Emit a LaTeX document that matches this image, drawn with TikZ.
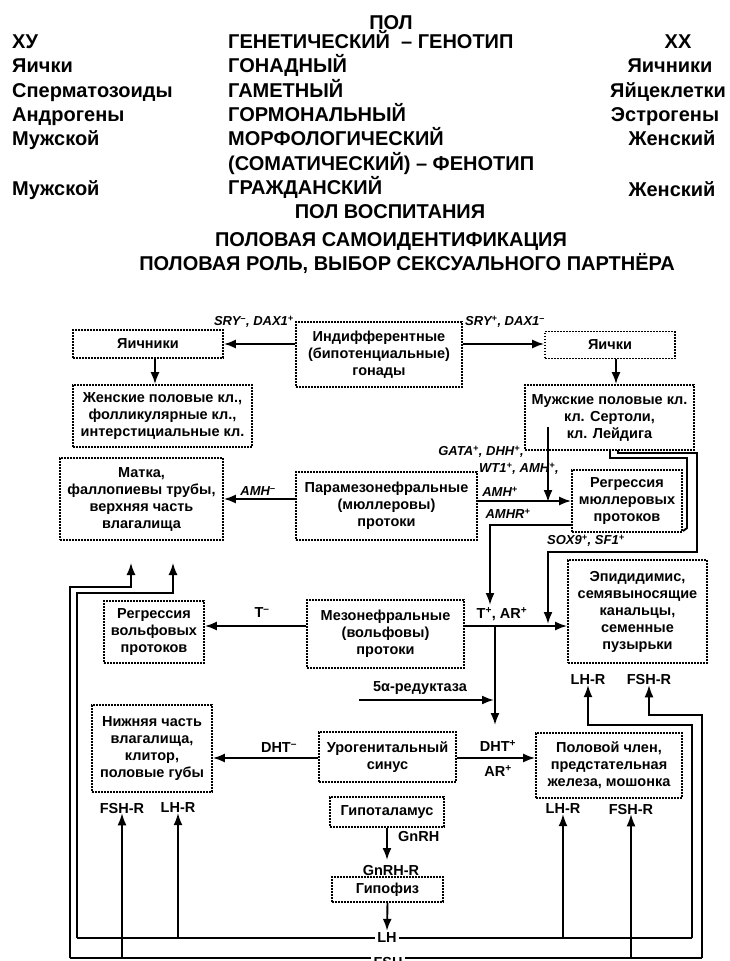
\documentclass[tikz,border=0pt]{standalone}
\usepackage{fontspec}
\setmainfont{Liberation Sans}
\usetikzlibrary{arrows.meta}
\newcommand\sPlus{\textsuperscript{+}}
\newcommand\sMinus{\textsuperscript{–}}
\begin{document}
\begin{tikzpicture}[x=1pt,y=-1pt,
  hd/.style={font=\fontsize{20}{24}\selectfont\bfseries, inner sep=0pt},
  bx/.style={draw, line width=1.7pt, dash pattern=on 1.7pt off 1.3pt, align=center,
             font=\fontsize{14.5}{17}\selectfont\bfseries, inner sep=1pt},
  lb/.style={font=\fontsize{14.5}{16}\selectfont\bfseries, inner sep=0pt},
  il/.style={font=\fontsize{13}{15}\selectfont\bfseries\itshape, inner sep=0pt},
  ar/.style={line width=1.9pt, -{Latex[length=12pt,width=9pt]}},
  ln/.style={line width=1.9pt},
  bar/.style={line width=1.4pt, -{Latex[length=12pt,width=9pt]}},
  bl/.style={line width=1.4pt},
  bus/.style={fill=white, inner sep=2pt, font=\fontsize{14.5}{16}\selectfont\bfseries}
]
\fill[white] (0,0) rectangle (729,961);
\useasboundingbox (0,0) rectangle (729,961);

% ---------------- header ----------------
\node[hd] (pol) at (391,22.5) {ПОЛ};
\node[hd, anchor=mid west] (l1) at (12,46) {ХУ};
\node[hd, anchor=mid west] (l2) at (12,70) {Яички};
\node[hd, anchor=mid west] (l3) at (12,95) {Сперматозоиды};
\node[hd, anchor=mid west] (l4) at (12,119) {Андрогены};
\node[hd, anchor=mid west] (l5) at (12,143) {Мужской};
\node[hd, anchor=mid west] (l6) at (12,193) {Мужской};
\node[hd, anchor=mid west] (m1) at (228,46) {ГЕНЕТИЧЕСКИЙ\ \ – ГЕНОТИП};
\node[hd, anchor=mid west] (m2) at (228,70) {ГОНАДНЫЙ};
\node[hd, anchor=mid west] (m3) at (228,95) {ГАМЕТНЫЙ};
\node[hd, anchor=mid west] (m4) at (228,119) {ГОРМОНАЛЬНЫЙ};
\node[hd, anchor=mid west] (m5) at (228,143) {МОРФОЛОГИЧЕСКИЙ};
\node[hd, anchor=mid west] (m6) at (228,168) {(СОМАТИЧЕСКИЙ) – ФЕНОТИП};
\node[hd, anchor=mid west] (m7) at (228,192) {ГРАЖДАНСКИЙ};
\node[hd, anchor=mid] (r1) at (678,46) {ХХ};
\node[hd, anchor=mid] (r2) at (670,70) {Яичники};
\node[hd, anchor=mid] (r3) at (668,95) {Яйцеклетки};
\node[hd, anchor=mid] (r4) at (665,119) {Эстрогены};
\node[hd, anchor=mid] (r5) at (672,143) {Женский};
\node[hd, anchor=mid] (r6) at (672,194) {Женский};
\node[hd, anchor=mid] (c1) at (390,216) {ПОЛ ВОСПИТАНИЯ};
\node[hd, anchor=mid] (c2) at (391,244) {ПОЛОВАЯ САМОИДЕНТИФИКАЦИЯ};
\node[hd, anchor=mid] (c3) at (407,268) {ПОЛОВАЯ РОЛЬ, ВЫБОР СЕКСУАЛЬНОГО ПАРТНЁРА};

% ---------------- boxes ----------------
\node[bx, minimum width=166pt, minimum height=65pt] (gon) at (379,354.5) {Индифферентные\\(бипотенциальные)\\гонады};
\node[bx, minimum width=150pt, minimum height=28pt] (ovL) at (148,344) {Яичники};
\node[bx, minimum width=130pt, minimum height=27pt] (tes) at (610,345) {Яички};
\node[bx, minimum width=179pt, minimum height=62pt] (fem) at (162.5,416) {Женские половые кл.,\\фолликулярные кл.,\\интерстициальные кл.};
\node[bx, minimum width=169pt, minimum height=65pt] (male) at (609.5,417.5) {Мужские половые кл.\\кл. Сертоли,\\кл. Лейдига};
\node[bx, minimum width=163pt, minimum height=82pt] (uter) at (141.5,499) {Матка,\\фаллопиевы трубы,\\верхняя часть\\влагалища};
\node[bx, minimum width=181pt, minimum height=68pt] (para) at (386.5,506) {Парамезонефральные\\(мюллеровы)\\протоки};
\node[bx, minimum width=110pt, minimum height=62pt] (mreg) at (627,501) {Регрессия\\мюллеровых\\протоков};
\node[bx, minimum width=139pt, minimum height=103pt] (epi) at (637.5,611.5) {Эпидидимис,\\семявыносящие\\канальцы,\\семенные\\пузырьки};
\node[bx, minimum width=100pt, minimum height=62pt] (wreg) at (154,632) {Регрессия\\вольфовых\\протоков};
\node[bx, minimum width=157pt, minimum height=68pt] (meso) at (385.5,634) {Мезонефральные\\(вольфовы)\\протоки};
\node[bx, minimum width=120pt, minimum height=87pt] (low) at (152,748.5) {Нижняя часть\\влагалища,\\клитор,\\половые губы};
\node[bx, minimum width=137pt, minimum height=50pt] (uro) at (387.5,757) {Урогенитальный\\синус};
\node[bx, minimum width=146pt, minimum height=65pt] (pen) at (609,765.5) {Половой член,\\предстательная\\железа, мошонка};
\node[bx, minimum width=114pt, minimum height=30pt] (hyp) at (387,812) {Гипоталамус};
\node[bx, minimum width=111pt, minimum height=25pt] (pit) at (387.5,889.5) {Гипофиз};

% ---------------- labels ----------------
\node[il, anchor=mid east] (sry1) at (294,323) {SRY\sMinus, DAX1\sPlus};
\node[il, anchor=mid west] (sry2) at (465,323) {SRY\sPlus, DAX1\sMinus};
\node[il, anchor=mid east] (gata) at (524,453) {GATA\sPlus, DHH\sPlus,};
\node[il, anchor=mid west] (wt1) at (479,470) {WT1\sPlus, AMH\sPlus,};
\node[il] (amhm) at (258,491) {AMH\sMinus};
\node[il] (amhp) at (500,492) {AMH\sPlus};
\node[il] (amhr) at (508,514) {AMHR\sPlus};
\node[il, anchor=mid west] (sox) at (547,542) {SOX9\sPlus, SF1\sPlus};
\node[lb] (tm) at (262,613) {T\sMinus};
\node[lb] (tp) at (502,614) {T\sPlus, AR\sPlus};
\node[lb] (red) at (420,688) {5α-редуктаза};
\node[lb] (elh) at (588,680) {LH-R};
\node[lb] (efsh) at (649,680) {FSH-R};
\node[lb] (dhtm) at (279,748) {DHT\sMinus};
\node[lb] (dhtp) at (498,746) {DHT\sPlus};
\node[lb] (arp) at (498,771) {AR\sPlus};
\node[lb] (lfsh) at (122,808) {FSH-R};
\node[lb] (llh) at (178,808) {LH-R};
\node[lb] (plh) at (563,809) {LH-R};
\node[lb] (pfsh) at (631,809) {FSH-R};
\node[lb, anchor=mid west] (gnrh) at (398,839) {GnRH};
\node[lb] (gnrhr) at (391,870) {GnRH-R};

% ---------------- coordinates ----------------
\coordinate (mv1) at (548,427);
\coordinate (mv2) at (548,502);
\coordinate (rg1) at (572,525);
\coordinate (rg2) at (490,525);
\coordinate (rg3) at (490,605);
\coordinate (a0) at (618,450);
\coordinate (a1) at (618,453);
\coordinate (a2) at (697,453);
\coordinate (a3) at (697,552);
\coordinate (a4) at (548,552);
\coordinate (a5) at (548,624);
\coordinate (b0) at (610,450);
\coordinate (b1) at (610,458);
\coordinate (b2) at (687,458);
\coordinate (b3) at (687,528);
\coordinate (b4) at (683,531);
\coordinate (h626) at (0,626);
\coordinate (v1) at (495,626);
\coordinate (v2) at (495,725);
\coordinate (r1s) at (359,700);
\coordinate (r1e) at (494,700);
\coordinate (h758) at (0,758);
\coordinate (gn1) at (387,860);
% bus coordinates
\coordinate (LHl) at (77,938);
\coordinate (LHr) at (692,938);
\coordinate (FSl) at (70,958);
\coordinate (FSr) at (702,958);

% ---------------- connectors ----------------
\draw[ar] (gon.west |- ovL.east) -- (ovL.east);
\draw[ar] (gon.east |- ovL.east) -- (tes.west |- ovL.east);
\draw[ar] (ovL.south -| 155,0) -- (fem.north -| 155,0);
\draw[ar] (tes.south -| 616,0) -- (male.north -| 616,0);
\draw[ar] (para.west |- uter.east) -- (uter.east);
\draw[ar] (para.east |- mreg.west) -- (mreg.west);
\draw[ar] (mv1) -- (mv2);
\draw[ar] (rg1) -- (rg2) -- (rg3);
\draw[ar] (a0) -- (a1) -- (a2) -- (a3) -- (a4) -- (a5);
\draw[ln] (b0) -- (b1) -- (b2) -- (b3) -- (b4);
\draw[ar] (meso.west |- h626) -- (wreg.east |- h626);
\draw[ar] (meso.east |- h626) -- (epi.west |- h626);
\draw[ar] (v1) -- (v2);
\draw[ar] (r1s) -- (r1e);
\draw[ar] (uro.west |- h758) -- (low.east |- h758);
\draw[ar] (uro.east |- h758) -- (pen.west |- h758);
\draw[ar] (hyp.south) -- (gn1);

% buses
\node[bus] (lh) at (387,938) {LH};
\node[bus] (fsh) at (388,962) {FSH};
\draw[ar] (pit.south) -- (lh.north);
\draw[bl] (LHl) -- (lh.west);
\draw[bl] (lh.east) -- (LHr);
\draw[bl] (FSl) -- (FSl -| fsh.west);
\draw[bl] (FSr -| fsh.east) -- (FSr);
% to uterus
\draw[bar] (FSl) -- (70,587) -- (131,587) -- (131,563);
\draw[bar] (LHl) -- (77,593) -- (173,593) -- (173,563);
% to epididymis
\draw[bar] (LHr) -- (692,725) -- (588,725) -- (elh.south);
\draw[bar] (FSr) -- (702,715) -- (649,715) -- (efsh.south);
% to lower vagina
\draw[bar] (FSl -| lfsh.south) -- (lfsh.south);
\draw[bar] (LHl -| llh.south) -- (llh.south);
% to penis
\draw[bar] (LHl -| plh.south) -- (plh.south);
\draw[bar] (FSl -| pfsh.south) -- (pfsh.south);
\end{tikzpicture}
\end{document}
